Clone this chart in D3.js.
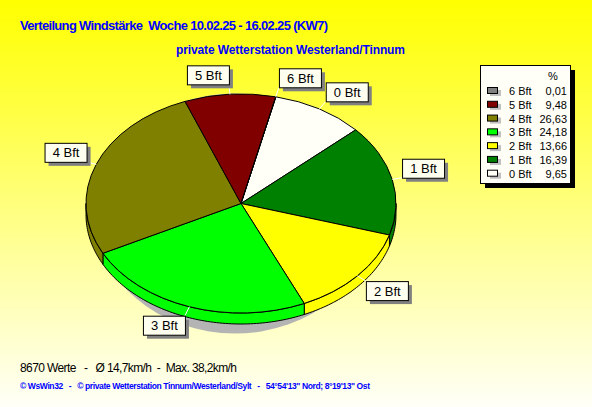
<!DOCTYPE html>
<html><head><meta charset="utf-8">
<script src="https://cdn.jsdelivr.net/npm/d3@7"></script>
<style>html,body{margin:0;padding:0;overflow:hidden;background:#fff}svg{display:block}text{font-family:"Liberation Sans",Arial,sans-serif;white-space:pre}</style>
</head><body>
<script>
const categories = ["0 Bft","1 Bft","2 Bft","3 Bft","4 Bft","5 Bft","6 Bft"];
const values = [9.65, 16.39, 13.66, 24.18, 26.63, 9.48, 0.01];
const valueLabels = ["9,65","16,39","13,66","24,18","26,63","9,48","0,01"];
const sliceColors = ["#FFFFF8","#008000","#FFFF00","#00FF00","#808000","#800000","#808080"];
const titleText = "Verteilung Windstärke  Woche 10.02.25 - 16.02.25 (KW7)";
const subtitleText = "private Wetterstation Westerland/Tinnum";
const statsText = "8670 Werte   -   Ø 14,7km/h  -  Max. 38,2km/h";
const copyrightText = "© WsWin32   -   © private Wetterstation Tinnum/Westerland/Sylt   -   54°54'13\" Nord; 8°19'13\" Ost";

const W = 592, H = 407;
const svg = d3.select("body").append("svg").attr("width", W).attr("height", H);
const defs = svg.append("defs");
const grad = defs.append("linearGradient").attr("id","bg").attr("x1",0).attr("y1",0).attr("x2",0).attr("y2",1);
grad.append("stop").attr("offset","0%").attr("stop-color","#FFFF00");
grad.append("stop").attr("offset","100%").attr("stop-color","#FFFFF8");
svg.append("rect").attr("width",W).attr("height",H).attr("fill","url(#bg)");

// Titles
svg.append("text").attr("x",20).attr("y",30).attr("fill","#0000FF").attr("font-weight","bold").attr("font-size",13)
  .attr("textLength",308).attr("lengthAdjust","spacing").text(titleText);
svg.append("text").attr("x",176).attr("y",54).attr("fill","#0000FF").attr("font-weight","bold").attr("font-size",12)
  .attr("textLength",229).attr("lengthAdjust","spacing").text(subtitleText);

// Pie geometry
const cx = 241, cy = 203.5, rx = 155, ry = 109.5, depth = 11;
const color = d3.scaleOrdinal().domain(categories).range(sliceColors);
const start = 13 * Math.PI / 180;
const pie = d3.pie().sort(null).value(d => d.v).startAngle(start).endAngle(start + 2*Math.PI);
const arcsData = pie(categories.map((c,i) => ({c, v: values[i]})));

// shadow
svg.append("ellipse").attr("cx",cx-6).attr("cy",cy+10).attr("rx",140).attr("ry",120).attr("fill","#B4B4B4");

const pt = (a, dy=0) => [cx + rx*Math.sin(a), cy - ry*Math.cos(a) + dy];
const line = d3.line();
// sides (front half)
const sideG = svg.append("g");
arcsData.forEach(d => {
  const s = d.startAngle, e = d.endAngle;
  const lo = Math.PI/2, hi = 3*Math.PI/2;
  [[s,e],[s-2*Math.PI,e-2*Math.PI],[s+2*Math.PI,e+2*Math.PI]].forEach(([ss,ee]) => {
    const u0 = Math.max(ss, lo), u1 = Math.min(ee, hi);
    if (u1 <= u0) return;
    const n = Math.max(2, Math.ceil((u1-u0)/0.02));
    const top = d3.range(n+1).map(k => pt(u0 + (u1-u0)*k/n));
    const bot = d3.range(n+1).map(k => pt(u1 - (u1-u0)*k/n, depth));
    sideG.append("path").attr("d", line(top.concat(bot)) + "Z")
      .attr("fill", color(d.data.c)).attr("stroke","#000").attr("stroke-width",1);
  });
});

// top faces
const topG = svg.append("g").attr("transform",`translate(${cx},${cy}) scale(1,${ry/rx})`);
const arc = d3.arc().innerRadius(0).outerRadius(rx);
topG.selectAll("path").data(arcsData).join("path")
  .attr("d", arc).attr("fill", d => color(d.data.c))
  .attr("stroke","#000").attr("stroke-width",1).attr("vector-effect","non-scaling-stroke");

// labels
const bw = 42, bh = 19;
const labG = svg.append("g");
arcsData.forEach(d => {
  const m = (d.startAngle + d.endAngle)/2;
  const [px, py] = pt(m);
  let dx = px - cx, dy = py - cy; const L = Math.hypot(dx,dy); dx/=L; dy/=L;
  const qx = px + dx*10, qy = py + dy*10;
  const bx = dx >= 0 ? qx : qx - bw;
  const by = dy >= 0 ? qy : qy - bh;
  labG.append("line").attr("x1",px).attr("y1",py).attr("x2",qx).attr("y2",qy).attr("stroke","#FFFFFF").attr("stroke-width",1);
  labG.append("rect").attr("x",bx+4).attr("y",by+4).attr("width",bw).attr("height",bh).attr("fill","#808080");
  labG.append("rect").attr("x",bx+0.5).attr("y",by+0.5).attr("width",bw).attr("height",bh).attr("fill","#FFFFF0").attr("stroke","#000");
  labG.append("text").attr("x",bx+bw/2+0.5).attr("y",by+bh/2+5).attr("text-anchor","middle").attr("font-size",13).attr("fill","#000").text(d.data.c);
});

// legend
const lg = svg.append("g");
lg.append("rect").attr("x",485).attr("y",70).attr("width",90).attr("height",118).attr("fill","#000");
lg.append("rect").attr("x",480.5).attr("y",65.5).attr("width",90).attr("height",118).attr("fill","#FFFFF8").attr("stroke","#000");
lg.append("text").attr("x",553).attr("y",80).attr("text-anchor","middle").attr("font-size",11).text("%");
const order = d3.range(categories.length).reverse();
const rowY = d3.scalePoint().domain(order).range([91, 173.7]);
order.forEach(i => {
  const y = rowY(i);
  lg.append("rect").attr("x",490).attr("y",y-1).attr("width",11).attr("height",6).attr("fill","#C0C0C0");
  lg.append("rect").attr("x",487.5).attr("y",y-3.5).attr("width",10).attr("height",6).attr("fill",color(categories[i])).attr("stroke","#000");
  lg.append("text").attr("x",509).attr("y",y+4).attr("font-size",11).text(categories[i]);
  lg.append("text").attr("x",567).attr("y",y+4).attr("text-anchor","end").attr("font-size",11).text(valueLabels[i]);
});

// bottom texts
svg.append("text").attr("x",20).attr("y",372).attr("font-size",12).attr("fill","#000")
  .attr("textLength",217).attr("lengthAdjust","spacing").text(statsText);
svg.append("text").attr("x",20).attr("y",389).attr("font-size",8.5).attr("font-weight","bold").attr("fill","#0000FF")
  .attr("textLength",350).attr("lengthAdjust","spacing").text(copyrightText);
</script>
</body></html>
